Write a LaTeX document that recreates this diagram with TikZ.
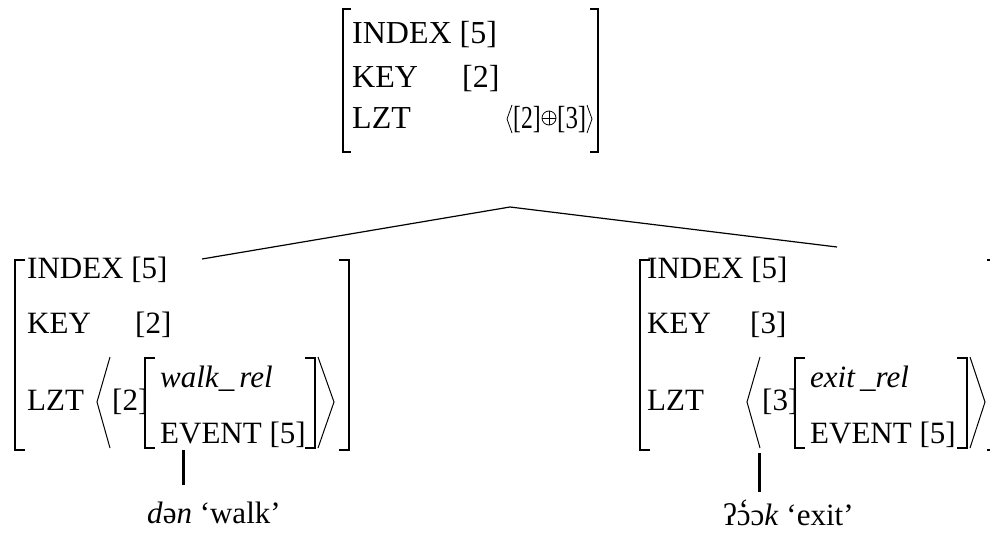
\documentclass[tikz,border=0pt]{standalone}
\usepackage{fontspec}
\setmainfont{Liberation Serif}
\begin{document}
\begin{tikzpicture}[x=1pt,y=-1pt,
  txt/.style={anchor=base west,inner sep=0pt,font=\fontsize{31}{36}\selectfont},
  toptxt/.style={anchor=base west,inner sep=0pt,font=\fontsize{32}{38}\selectfont},
  brk/.style={line width=1.1pt},
  ang/.style={line width=1pt},
  thinang/.style={line width=0.8pt},
  treeline/.style={line width=1.2pt},
  stem/.style={line width=3pt}]
\useasboundingbox (0,0) rectangle (990,533);
% ---------- top AVM ----------
\draw[brk] (351,9) -- (343,9) -- (343,152) -- (351,152);
\draw[brk] (590,9) -- (598,9) -- (598,152) -- (590,152);
\node[toptxt] (tindex) at (352,43) {INDEX [5]};
\node[toptxt] (tkey) at (352,87) {KEY};
\node[toptxt] (tkeyv) at (462,87) {[2]};
\node[toptxt] (tlzt) at (352,128) {LZT};
\draw[thinang] (512,105) -- (507,119) -- (512,133);
\node[toptxt] (tlztv1) at (513,128) {\scalebox{0.74}[1]{[2]}};
\node[circle,draw,thinang,minimum size=14pt,inner sep=0pt] (oplus) at (549,118) {};
\draw[thinang] (oplus.north) -- (oplus.south);
\draw[thinang] (oplus.west) -- (oplus.east);
\node[toptxt] (tlztv2) at (557,128) {\scalebox{0.78}[1]{[3]}};
\draw[thinang] (587,105) -- (592,119) -- (587,133);
% ---------- tree ----------
\coordinate (apex) at (510,207);
\coordinate (lend) at (202,259);
\coordinate (rend) at (837,247);
\draw[treeline] (lend) -- (apex) -- (rend);
% ---------- left AVM ----------
\draw[brk] (25,260) -- (15,260) -- (15,450) -- (25,450);
\draw[brk] (339,260) -- (349,260) -- (349,450) -- (339,450);
\node[txt] (lindex) at (27,278) {INDEX [5]};
\node[txt] (lkey) at (27,333) {KEY};
\node[txt] (lkeyv) at (135,333) {[2]};
\node[txt] (llzt) at (27,410) {LZT};
\draw[ang] (110,357) -- (97,402) -- (110,448);
\node[txt] (ltag) at (112,410) {[2]};
\draw[brk] (155,358) -- (145,358) -- (145,448) -- (155,448);
\node[txt] (lrel) at (160,387) {\textit{walk\_\,rel}};
\node[txt] (lev) at (160,443) {EVENT [5]};
\draw[brk] (305,358) -- (315,358) -- (315,448) -- (305,448);
\draw[ang] (318,357) -- (334,402) -- (318,448);
\coordinate (lstemtop) at (183,450);
\coordinate (lstembot) at (183,485);
\draw[stem] (lstemtop) -- (lstembot);
\node[txt] (lword) at (147,523) {\textit{d}ə\textit{n} ‘walk’};
% ---------- right AVM ----------
\draw[brk] (650,260) -- (640,260) -- (640,450) -- (650,450);
\draw[brk] (987,260) -- (991,260) -- (991,450) -- (987,450);
\node[txt] (rindex) at (647,278) {INDEX [5]};
\node[txt] (rkey) at (647,333) {KEY};
\node[txt] (rkeyv) at (750,333) {[3]};
\node[txt] (rlzt) at (647,410) {LZT};
\draw[ang] (760,357) -- (747,402) -- (760,448);
\node[txt] (rtag) at (762,410) {[3]};
\draw[brk] (805,358) -- (795,358) -- (795,448) -- (805,448);
\node[txt] (rrel) at (810,387) {\textit{exit\,\_rel}};
\node[txt] (rev) at (810,443) {EVENT [5]};
\draw[brk] (957,358) -- (967,358) -- (967,448) -- (957,448);
\draw[ang] (970,357) -- (985,402) -- (970,448);
\coordinate (rstemtop) at (759,453);
\coordinate (rstembot) at (759,492);
\draw[stem] (rstemtop) -- (rstembot);
\node[txt] (rword) at (723,525) {ʔ\ooalign{ɔ\cr\hidewidth\raisebox{0.14em}{\char"60}\hidewidth\cr}ɔ\textit{k} ‘exit’};
\end{tikzpicture}
\end{document}
